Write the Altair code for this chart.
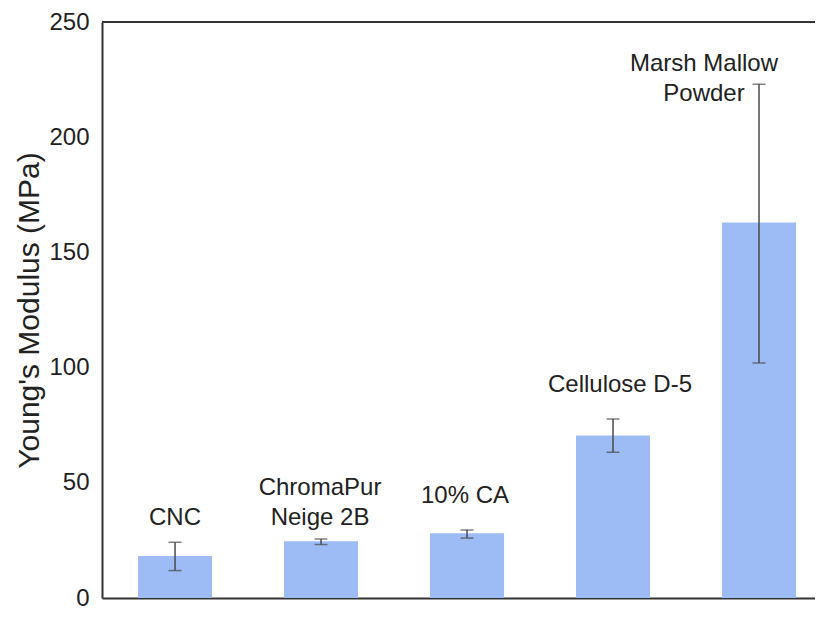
import altair as alt
import pandas as pd

samples = ["CNC", "ChromaPur Neige 2B", "10% CA", "Cellulose D-5", "Marsh Mallow Powder"]
label_text = ["CNC", "ChromaPur\nNeige 2B", "10% CA", "Cellulose D-5", "Marsh Mallow\nPowder"]
modulus = [18.2, 24.6, 28.1, 70.5, 163.0]
err_low = [11.9, 23.2, 26.0, 63.3, 102.0]
err_high = [24.2, 25.6, 29.5, 77.7, 223.0]
y_ticks = [0, 50, 100, 150, 200, 250]

df = pd.DataFrame({
    "sample": samples,
    "label": label_text,
    "modulus": modulus,
    "lo": err_low,
    "hi": err_high,
})

FONT = "Liberation Sans"
PLOT_W = 713
PLOT_H = 576
x_scale = alt.Scale(domain=samples, paddingInner=0.493, paddingOuter=0.1884, align=0.655)
y_scale = alt.Scale(domain=[0, 250], nice=False)

base = alt.Chart(df)

bars = base.mark_bar(color="#9DBCF5").encode(
    x=alt.X("sample:N", scale=x_scale, sort=samples,
            axis=alt.Axis(labels=False, ticks=False, title=None, domain=True,
                          domainColor="#333333", domainWidth=2)),
    y=alt.Y("modulus:Q", scale=y_scale,
            axis=alt.Axis(values=y_ticks, title="Young's Modulus (MPa)", grid=False,
                          ticks=False, domain=True, domainColor="#333333", domainWidth=2,
                          labelFont=FONT, labelFontSize=24, labelColor="#222222",
                          labelPadding=13, titleFont=FONT, titleFontSize=30,
                          titleFontWeight="normal", titleColor="#222222", titlePadding=4)),
)

err_line = base.mark_rule(color="#4a4a4a", strokeWidth=1.5).encode(
    x=alt.X("sample:N", scale=x_scale, sort=samples),
    y=alt.Y("lo:Q", scale=y_scale),
    y2="hi:Q",
)
cap_hi = base.mark_tick(color="#4a4a4a", size=13, thickness=1.5).encode(
    x=alt.X("sample:N", scale=x_scale, sort=samples),
    y=alt.Y("hi:Q", scale=y_scale),
)
cap_lo = base.mark_tick(color="#4a4a4a", size=13, thickness=1.5).encode(
    x=alt.X("sample:N", scale=x_scale, sort=samples),
    y=alt.Y("lo:Q", scale=y_scale),
)

top_frame = alt.Chart(pd.DataFrame({"top": [250]})).mark_rule(
    color="#333333", strokeWidth=2).encode(
    y=alt.Y("top:Q", scale=y_scale), x=alt.value(0), x2=alt.value(PLOT_W))

# per-label offsets (annotation placement)
offsets = {
    "CNC": (0, -17),
    "ChromaPur Neige 2B": (-1, -44),
    "10% CA": (-2, -27),
    "Cellulose D-5": (7, -27),
    "Marsh Mallow Powder": (-55, -13),
}
label_layers = []
for s in samples:
    dx, dy = offsets[s]
    label_layers.append(
        base.transform_filter(alt.datum.sample == s).mark_text(
            font=FONT, fontSize=24, color="#222222", align="center",
            baseline="alphabetic", lineBreak="\n", lineHeight=30, dx=dx, dy=dy
        ).encode(
            x=alt.X("sample:N", scale=x_scale, sort=samples),
            y=alt.Y("hi:Q", scale=y_scale),
            text="label:N",
        )
    )

chart = alt.layer(bars, err_line, cap_hi, cap_lo, top_frame, *label_layers).properties(
    width=PLOT_W, height=PLOT_H,
    autosize=alt.AutoSizeParams(type="none"),
    padding={"left": 94, "top": 14, "right": 0, "bottom": 12},
).configure_view(stroke=None).configure(background="white")

chart.save("out.html", embed_options={"renderer": "svg", "actions": False})
